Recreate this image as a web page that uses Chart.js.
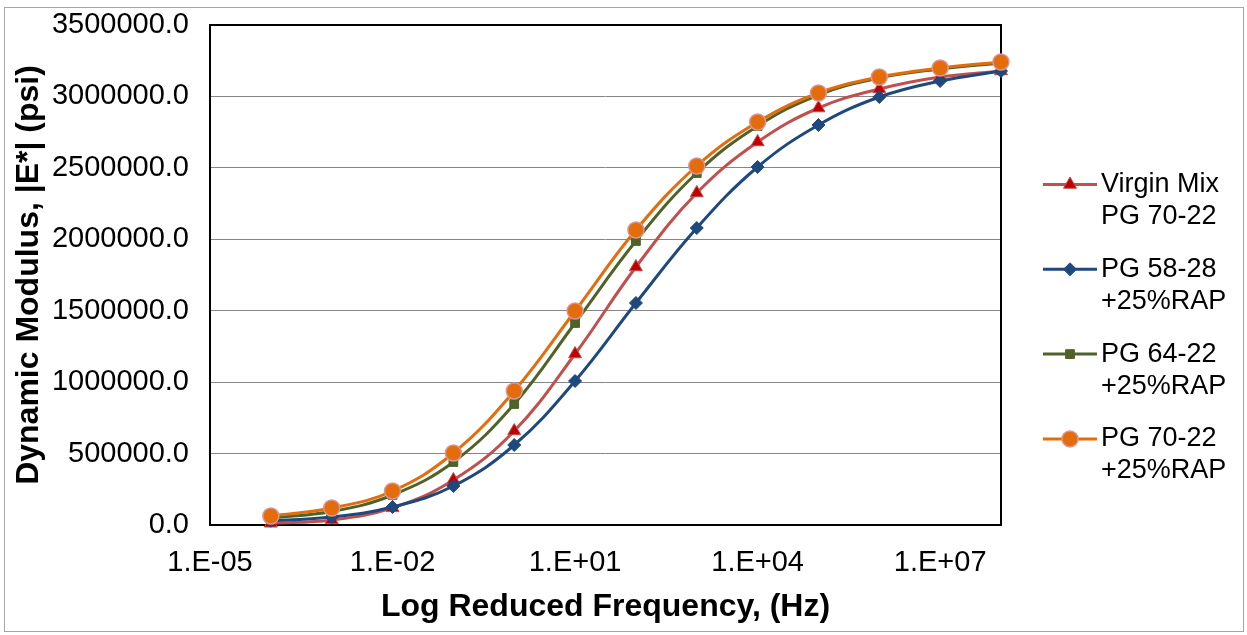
<!DOCTYPE html>
<html>
<head>
<meta charset="utf-8">
<script src="https://cdn.jsdelivr.net/npm/chart.js@4.4.1/dist/chart.umd.min.js"></script>
<style>
html,body{margin:0;padding:0;background:#fff;}
canvas{display:block;}
</style>
</head>
<body>
<canvas id="c" width="1247" height="635"></canvas>
<script>
// ---- data ----
const freqHz = [1e-4, 1e-3, 1e-2, 1e-1, 1e0, 1e1, 1e2, 1e3, 1e4, 1e5, 1e6, 1e7, 1e8];
const virginMixPG7022 = [12000, 35000, 120000, 315000, 658000, 1197000, 1806000, 2324000, 2681000, 2919000, 3052000, 3136000, 3178000];
const pg5828Rap25 = [30000, 56000, 126000, 273000, 560000, 1008000, 1554000, 2079000, 2506000, 2800000, 2996000, 3108000, 3178000];
const pg6422Rap25 = [49000, 94000, 210000, 441000, 847000, 1414000, 1988000, 2464000, 2793000, 3010000, 3129000, 3192000, 3234000];
const pg7022Rap25 = [63000, 119000, 238000, 504000, 938000, 1498000, 2065000, 2513000, 2821000, 3024000, 3136000, 3199000, 3241000];
const seriesNames = [
  ['Virgin Mix', 'PG 70-22'],
  ['PG 58-28', '+25%RAP'],
  ['PG 64-22', '+25%RAP'],
  ['PG 70-22', '+25%RAP']
];
const xTickValues = [1e-5, 1e-2, 1e1, 1e4, 1e7];
const xTickLabels = ['1.E-05', '1.E-02', '1.E+01', '1.E+04', '1.E+07'];
const yTickValues = [0, 500000, 1000000, 1500000, 2000000, 2500000, 3000000, 3500000];
const yTickLabels = ['0.0', '500000.0', '1000000.0', '1500000.0', '2000000.0', '2500000.0', '3000000.0', '3500000.0'];
const xTitle = 'Log Reduced Frequency, (Hz)';
const yTitle = 'Dynamic Modulus, |E*| (psi)';

const FONT = '"Liberation Sans", Arial, sans-serif';

function pts(arr) { return freqHz.map((x, i) => ({ x: x, y: arr[i] })); }

const datasets = [
  { label: seriesNames[0].join(' '), data: pts(virginMixPG7022), order: 4,
    borderColor: '#C0504D', backgroundColor: '#C00000', pointBackgroundColor: '#C00000', pointBorderColor: '#C0504D',
    pointStyle: 'triangle', pointRadius: 7.5, pointBorderWidth: 1 },
  { label: seriesNames[1].join(' '), data: pts(pg5828Rap25), order: 3,
    borderColor: '#1F497D', backgroundColor: '#1F497D', pointBackgroundColor: '#1F497D', pointBorderColor: '#1F497D',
    pointStyle: 'rectRot', pointRadius: 6.5, pointBorderWidth: 1 },
  { label: seriesNames[2].join(' '), data: pts(pg6422Rap25), order: 2,
    borderColor: '#4F6228', backgroundColor: '#4F6228', pointBackgroundColor: '#4F6228', pointBorderColor: '#4F6228',
    pointStyle: 'rect', pointRadius: 6.2, pointBorderWidth: 1 },
  { label: seriesNames[3].join(' '), data: pts(pg7022Rap25), order: 1,
    borderColor: '#E46C0A', backgroundColor: '#E46C0A', pointBackgroundColor: '#E46C0A', pointBorderColor: '#D99694',
    pointStyle: 'circle', pointRadius: 8, pointBorderWidth: 1.5 }
];
datasets.forEach(d => { d.borderWidth = 3; d.tension = 0.4; d.clip = false; d.fill = false; });

const frameAndBorder = {
  id: 'frameAndBorder',
  beforeDraw(chart) {
    const ctx = chart.ctx;
    ctx.save();
    ctx.fillStyle = '#fff';
    ctx.fillRect(0, 0, chart.width, chart.height);
    ctx.strokeStyle = '#A6A6A6';
    ctx.lineWidth = 1;
    ctx.strokeRect(4.5, 7.5, 1239, 624);
    ctx.restore();
  },
  beforeDatasetsDraw(chart) {
    const a = chart.chartArea, ctx = chart.ctx;
    ctx.save();
    ctx.strokeStyle = '#000';
    ctx.lineWidth = 2;
    ctx.strokeRect(a.left, a.top, a.right - a.left, a.bottom - a.top);
    ctx.restore();
  }
};

const sideLegend = {
  id: 'sideLegend',
  afterDraw(chart) {
    const ctx = chart.ctx;
    chart.data.datasets.forEach((ds, i) => {
      const y0 = 184.5 + 84.8 * i;
      ctx.save();
      ctx.strokeStyle = ds.borderColor;
      ctx.lineWidth = 3;
      ctx.beginPath();
      ctx.moveTo(1043, y0);
      ctx.lineTo(1097, y0);
      ctx.stroke();
      ctx.fillStyle = ds.pointBackgroundColor;
      ctx.strokeStyle = ds.pointBorderColor;
      ctx.lineWidth = ds.pointBorderWidth;
      Chart.helpers.drawPoint(ctx, { pointStyle: ds.pointStyle, radius: ds.pointRadius, rotation: 0, borderWidth: ds.pointBorderWidth }, 1070, y0);
      ctx.fillStyle = '#000';
      ctx.font = '27px ' + FONT;
      ctx.textBaseline = 'middle';
      ctx.textAlign = 'left';
      seriesNames[i].forEach((t, k) => ctx.fillText(t, 1101, y0 + 32 * k));
      ctx.restore();
    });
  }
};

new Chart(document.getElementById('c'), {
  type: 'line',
  data: { datasets: datasets },
  plugins: [frameAndBorder, sideLegend],
  options: {
    responsive: false,
    animation: false,
    devicePixelRatio: 1,
    layout: { padding: { top: 25, right: 246, left: 0, bottom: 0 } },
    plugins: { legend: { display: false }, tooltip: { enabled: false } },
    scales: {
      x: {
        type: 'logarithmic', min: 1e-5, max: 1e8,
        grid: { display: false },
        border: { display: false },
        afterBuildTicks: s => { s.ticks = xTickValues.map(v => ({ value: v })); },
        afterFit: s => { s.height = 110; s.paddingLeft = 0; s.paddingRight = 0; },
        ticks: { autoSkip: false, maxRotation: 0, minRotation: 0, padding: 13, color: '#000',
                 font: { family: FONT, size: 29 }, callback: (v, i) => xTickLabels[i] },
        title: { display: true, text: xTitle, color: '#000', font: { family: FONT, size: 32, weight: 'bold' },
                 padding: { top: 0, bottom: 9 } }
      },
      y: {
        min: 0, max: 3500000,
        grid: { color: '#868686', lineWidth: 1, drawTicks: false },
        border: { display: false },
        afterBuildTicks: s => { s.ticks = yTickValues.map(v => ({ value: v })); },
        afterFit: s => { s.width = 210; s.paddingTop = 0; s.paddingBottom = 0; },
        ticks: { autoSkip: false, padding: 21, color: '#000', font: { family: FONT, size: 29 },
                 callback: (v, i) => yTickLabels[i] },
        title: { display: true, text: yTitle, color: '#000', font: { family: FONT, size: 32, weight: 'bold' },
                 padding: { top: 10, bottom: 0 } }
      }
    }
  }
});
</script>
</body>
</html>
